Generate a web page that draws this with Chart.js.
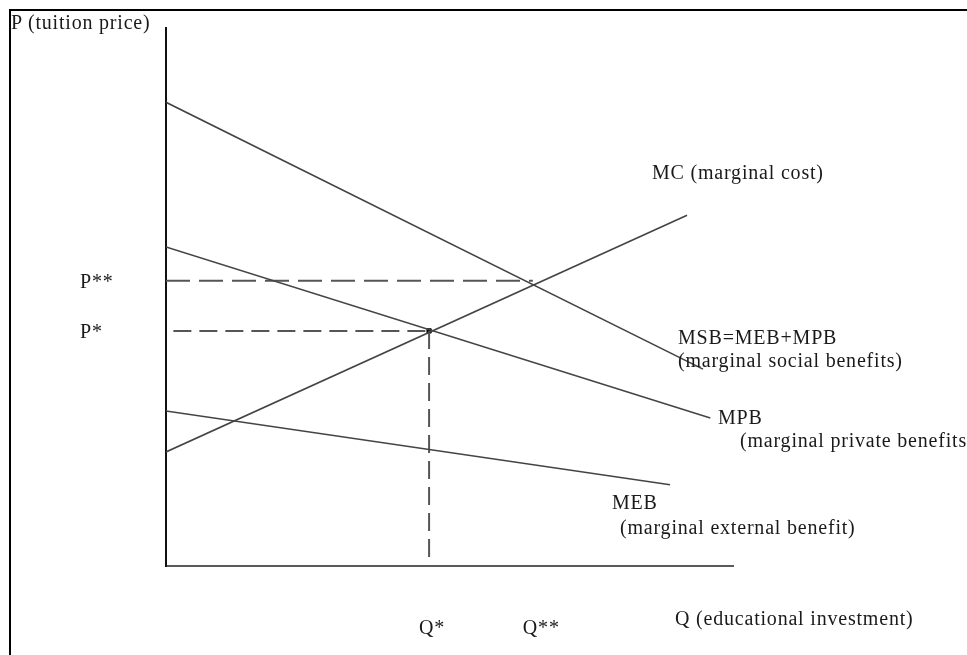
<!DOCTYPE html>
<html>
<head>
<meta charset="utf-8">
<script src="https://cdn.jsdelivr.net/npm/chart.js@4.4.1/dist/chart.umd.min.js"></script>
<style>
  html, body { margin:0; padding:0; background:#fff; }
  #wrap  { position:relative; width:967px; height:655px; overflow:hidden; }
  #frame { position:absolute; left:9px; top:9px; right:-10px; bottom:-10px;
           border-top:2px solid #000; border-left:2px solid #000; pointer-events:none; }
  .lbl   { position:absolute; font-family:"Liberation Serif","Times New Roman",serif;
           font-size:20px; letter-spacing:0.8px; color:#1a1a1a; white-space:nowrap; line-height:1;
           transform:translateY(-50%); }
</style>
</head>
<body>
<div id="wrap">
  <canvas id="econChart" width="967" height="655"></canvas>
  <div id="frame"></div>
</div>
<script>
/* ── data (axis units 0..100) ───────────────────────── */
const msbLine = [{x:0, y:86.2}, {x:94.7, y:36.6}];
const mcLine  = [{x:0, y:21.2}, {x:91.9, y:65.2}];
const mpbLine = [{x:0, y:59.3}, {x:96.0, y:27.5}];
const mebLine = [{x:0, y:28.8}, {x:88.9, y:15.1}];

const qTicks      = [46.4, 64.7];
const qTickLabels = ["Q*", "Q**"];
const pTicks      = [43.7, 53.0];
const pTickLabels = ["P*", "P**"];

const pStarStarGuide = [{x:0,   y:53.0}, {x:64.7, y:53.0}];
const pStarGuide     = [{x:1.3, y:43.7}, {x:46.4, y:43.7}];
const qStarGuide     = [{x:46.4, y:43.7}, {x:46.4, y:0}];
const equilibrium    = [{x:46.4, y:43.7}];

const axisTitles  = ["P (tuition price)", "Q (educational investment)"];
const curveLabels = [
  "MC (marginal cost)",
  "MSB=MEB+MPB", "(marginal social benefits)",
  "MPB", "(marginal private benefits)",
  "MEB", "(marginal external benefit)"
];

/* ── label placement (pixels) ───────────────────────── */
const axisTitlePos  = [[11, 22], [675, 618]];
const curveLabelPos = [[652,172],[678,337],[678,360],[718,417],[740,440],[612,502],[620,527]];

const wrap = document.getElementById("wrap");
function addLabel(text, x, y) {
  const d = document.createElement("div");
  d.className = "lbl";
  d.textContent = text;
  d.style.left = x + "px";
  d.style.top  = y + "px";
  wrap.appendChild(d);
  return d;
}

axisTitles.forEach((t, i)  => addLabel(t, axisTitlePos[i][0], axisTitlePos[i][1]));
curveLabels.forEach((t, i) => addLabel(t, curveLabelPos[i][0], curveLabelPos[i][1]));

// tick labels follow the scales
const tickLabelPlugin = {
  id: "tickLabels",
  afterDraw(chart) {
    if (chart._tickDone) return;
    chart._tickDone = true;
    const xs = chart.scales.x, ys = chart.scales.y;
    pTicks.forEach((v, i) => addLabel(pTickLabels[i], 80, ys.getPixelForValue(v)));
    qTicks.forEach((v, i) => addLabel(qTickLabels[i], xs.getPixelForValue(v) - 10, 627));
  }
};

const lineCol = "#444";
const solid  = (data) => ({ data, showLine:true, borderColor:lineCol, borderWidth:1.6, pointRadius:0, fill:false });
const dashed = (data, dash) => ({ data, showLine:true, borderColor:"#555", borderWidth:2, borderDash:dash, pointRadius:0, fill:false });

new Chart(document.getElementById("econChart").getContext("2d"), {
  type: "scatter",
  data: {
    datasets: [
      solid(msbLine), solid(mcLine), solid(mpbLine), solid(mebLine),
      dashed(pStarStarGuide, [24, 9]),
      dashed(pStarGuide, [18, 8]),
      dashed(qStarGuide, [18, 8]),
      { data: equilibrium, pointStyle:"rect", pointRadius:3, backgroundColor:"#000", borderColor:"#000", showLine:false }
    ]
  },
  options: {
    responsive:false, animation:false,
    layout: { padding: { left:166, top:28, right:234, bottom:89 } },
    plugins: { legend:{display:false}, tooltip:{enabled:false}, title:{display:false} },
    scales: {
      x: { type:"linear", min:0, max:100,
           grid:{ display:false, drawTicks:false }, ticks:{ display:false },
           border:{ display:true, color:"#5a5a5a", width:2 } },
      y: { type:"linear", min:0, max:100,
           grid:{ display:false, drawTicks:false }, ticks:{ display:false },
           border:{ display:true, color:"#111", width:2 } }
    }
  },
  plugins: [tickLabelPlugin]
});
</script>
</body>
</html>
